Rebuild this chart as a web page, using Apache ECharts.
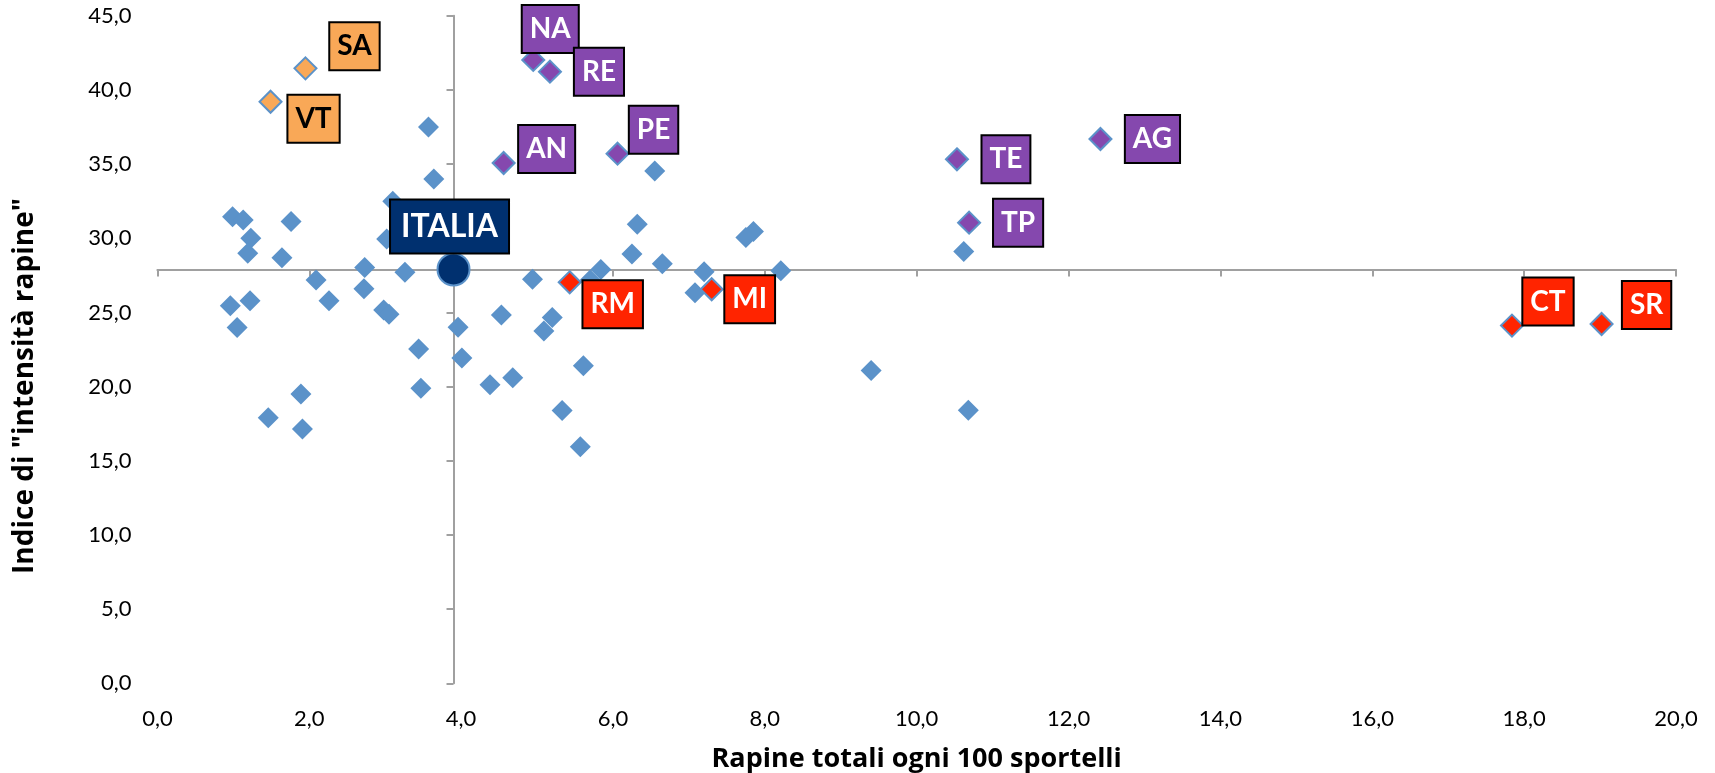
<!DOCTYPE html>
<html>
<head>
<meta charset="utf-8">
<script src="https://cdn.jsdelivr.net/npm/echarts@6/dist/echarts.min.js"></script>
<style>
html,body{margin:0;padding:0;background:#fff;}
#c{width:1715px;height:773px;}
</style>
</head>
<body>
<div id="c"></div>
<script>
// ---------- data ----------
const blueX = [3.57,3.64,3.10,0.99,1.13,1.76,1.23,3.02,1.19,1.64,2.73,3.26,2.09,2.72,0.96,1.22,2.26,2.98,3.05,1.05,3.44,3.47,1.89,1.46,1.91,
               6.55,6.32,7.85,7.75,6.25,6.65,5.84,7.20,8.21,4.94,5.70,7.08,
               4.53,5.20,5.09,3.96,4.01,5.61,4.38,4.68,5.33,5.57,
               10.62,9.40,10.68];
const blueY = [37.5,34.0,32.5,31.45,31.23,31.12,30.0,29.95,28.99,28.69,28.02,27.71,27.18,26.6,25.45,25.79,25.79,25.16,24.87,23.99,22.53,19.88,19.5,17.9,17.14,
               34.54,30.95,30.45,30.05,28.93,28.28,27.9,27.74,27.81,27.23,27.19,26.33,
               24.83,24.65,23.75,24.0,21.93,21.41,20.12,20.59,18.38,15.95,
               29.1,21.08,18.41];

const hlNames  = ['SA','VT','NA','RE','AN','PE','TE','AG','TP','RM','MI','CT','SR'];
const hlX      = [1.95,1.49,4.95,5.17,4.56,6.06,10.53,12.42,10.69,5.43,7.30,17.84,19.02];
const hlY      = [41.45,39.2,42.02,41.23,35.07,35.7,35.32,36.69,31.05,27.03,26.56,24.11,24.22];
const hlGroup  = ['orange','orange','purple','purple','purple','purple','purple','purple','purple','red','red','red','red'];

const italiaName = 'ITALIA';
const italiaX = 3.90;
const italiaY = 27.9;

const xTicks = [0,2,4,6,8,10,12,14,16,18,20];
const yTicks = [0,5,10,15,20,25,30,35,40,45];

const xTitle = 'Rapine totali ogni 100 sportelli';
const yTitle = 'Indice di "intensità rapine"';

// ---------- styles / layout ----------
const groupStyle = {
  orange: {fill:'#F9A857', text:'#000000'},
  purple: {fill:'#8548AE', text:'#FFFFFF'},
  red:    {fill:'#FF2400', text:'#FFFFFF'}
};
const labelOffset = {
  SA:[49,-22], VT:[43,17], NA:[17,-31], RE:[49,0], AN:[43,-14], PE:[36,-24],
  TE:[49,0], AG:[52,0], TP:[49,0], RM:[43,22], MI:[38,10], CT:[36,-24], SR:[45,-19]
};
const FONT = 'Lato, "Open Sans", sans-serif';
const TFONT = '"Open Sans", Lato, sans-serif';
const fmt = v => v.toFixed(1).replace('.', ',');

const chart = echarts.init(document.getElementById('c'), null, {renderer:'canvas'});

function groupData(g){
  const out = [];
  hlNames.forEach((n,i) => {
    if (hlGroup[i] !== g) return;
    out.push({
      name:n, value:[hlX[i], hlY[i]],
      label:{offset: labelOffset[n]}
    });
  });
  return out;
}
function hlSeries(g){
  const s = groupStyle[g];
  return {
    type:'scatter', symbol:'diamond', symbolSize:22,
    itemStyle:{color:s.fill, borderColor:'#5B92C9', borderWidth:2, opacity:1},
    label:{
      show:true, position:'inside', formatter:p=>p.name,
      fontFamily:FONT, fontWeight:'bold', fontSize:28, color:s.text,
      backgroundColor:s.fill, borderColor:'#000', borderWidth:2,
      padding:[6,7,6,7], lineHeight:34, align:'center', verticalAlign:'middle'
    },
    emphasis:{disabled:true},
    data: groupData(g), z:3
  };
}

const axisLineStyle = {color:'#A0A0A0', width:2};

const option = {
  animation:false,
  backgroundColor:'#ffffff',
  grid:{left:157.4, top:15.7, right:39, bottom:89.7, containLabel:false},
  xAxis:[
    {type:'value', min:0, max:20, interval:2, position:'bottom',
     axisLine:{show:false, onZero:false}, axisTick:{show:false}, splitLine:{show:false},
     axisLabel:{formatter:fmt, fontFamily:FONT, fontSize:22, color:'#000', margin:25}},
    {type:'value', min:0, max:20, interval:2, position:'bottom', offset:0,
     axisLine:{show:true, onZero:false, lineStyle:axisLineStyle},
     axisTick:{show:true, length:7, lineStyle:axisLineStyle},
     axisLabel:{show:false}, splitLine:{show:false}}
  ],
  yAxis:[
    {type:'value', min:0, max:45, interval:5, position:'left',
     axisLine:{show:false, onZero:false}, axisTick:{show:false}, splitLine:{show:false},
     axisLabel:{formatter:fmt, fontFamily:FONT, fontSize:22, color:'#000', margin:26}},
    {type:'value', min:0, max:45, interval:5, position:'left', offset:0,
     axisLine:{show:true, onZero:false, lineStyle:axisLineStyle},
     axisTick:{show:true, length:7, lineStyle:axisLineStyle},
     axisLabel:{show:false}, splitLine:{show:false}}
  ],
  graphic:[
    {type:'text', x:916.7, y:759, style:{text:xTitle, font:'bold 27px '+TFONT, fill:'#000', align:'center', verticalAlign:'middle'}},
    {type:'text', x:25, y:386, rotation:Math.PI/2, style:{text:yTitle, font:'bold 28px '+TFONT, fill:'#000', align:'center', verticalAlign:'middle'}}
  ],
  series:[
    {type:'scatter', symbol:'diamond', symbolSize:21,
     itemStyle:{color:'#5B92C9', opacity:1}, emphasis:{disabled:true},
     data: blueX.map((x,i)=>[x, blueY[i]]), z:2},
    hlSeries('orange'),
    hlSeries('purple'),
    hlSeries('red'),
    {type:'scatter', symbol:'circle', symbolSize:32,
     itemStyle:{color:'#00306F', borderColor:'#5B92C9', borderWidth:2, opacity:1},
     label:{show:true, position:'inside', formatter:p=>p.name, offset:[-4,-43],
       fontFamily:FONT, fontWeight:'bold', fontSize:32, color:'#fff',
       backgroundColor:'#00306F', borderColor:'#000', borderWidth:2,
       padding:[7,10,7,10], lineHeight:38, align:'center', verticalAlign:'middle'},
     emphasis:{disabled:true},
     data:[{name:italiaName, value:[italiaX, italiaY]}], z:4}
  ]
};
chart.setOption(option);

// move the second pair of axes so they cross at the ITALIA point
const p0 = chart.convertToPixel({gridIndex:0}, [0,0]);
const pc = chart.convertToPixel({gridIndex:0}, [italiaX, italiaY]);
chart.setOption({
  xAxis:[{}, {offset: -(p0[1]-pc[1])}],
  yAxis:[{}, {offset: -(pc[0]-p0[0])}]
});
</script>
</body>
</html>
